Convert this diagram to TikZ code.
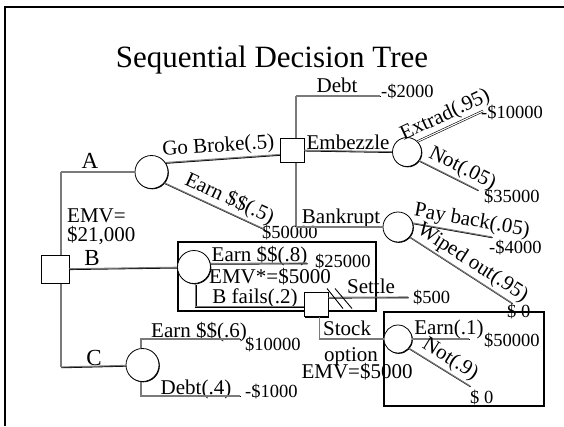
\documentclass[tikz,border=0pt]{standalone}
\usepackage{fontspec}
\setmainfont{Liberation Serif}
\usepackage{tikz}
\usetikzlibrary{calc,backgrounds,shadows}
\definecolor{TreeInk}{HTML}{000000}
\definecolor{TreeGray}{HTML}{7A7A7A}
\tikzset{
  tbranch/.style={draw=TreeGray,line width=1.1pt,
    preaction={draw=TreeInk,line width=1.1pt,transform canvas={shift={(0.5pt,-0.7pt)}}}},
  tdouble/.style={draw=TreeInk,line width=0.6pt,double=white,double distance=1.1pt},
  tslash/.style={draw=TreeInk,line width=0.9pt},
  tframe/.style={draw=TreeInk,line width=2.2pt},
  tregion/.style={draw=TreeInk,line width=1.2pt,inner sep=0pt,
    preaction={draw=TreeGray,line width=1.2pt,transform canvas={shift={(-0.9pt,0.9pt)}}}},
  tdecide/.style={draw=TreeInk,fill=white,line width=0.8pt,inner sep=0pt,
    drop shadow={shadow xshift=1.3pt,shadow yshift=-1.3pt,fill=TreeInk,opacity=1}},
  tchance/.style={circle,draw=TreeInk,fill=white,line width=0.8pt,inner sep=0pt,
    drop shadow={shadow xshift=0.8pt,shadow yshift=-0.8pt,fill=TreeInk,opacity=1}},
  tlab/.style={font=\fontsize{21}{23}\selectfont,inner sep=0pt},
  tval/.style={font=\fontsize{18.5}{20}\selectfont,inner sep=0pt},
  tletter/.style={font=\fontsize{23}{25}\selectfont,inner sep=0pt},
  tslope/.style={tlab,sloped,above,inner sep=2pt}
}

\begin{document}
\begin{tikzpicture}[x=1pt,y=-1pt]
  \useasboundingbox (0,0) rectangle (564,426);
  \draw[tframe] (5,426) -- (5,7) -- (564,7);

  \node[font=\fontsize{31}{35}\selectfont,anchor=base] (title) at (272,67) {Sequential Decision Tree};

  % decision and chance nodes
  \node[tdecide,minimum size=28pt] (sqR) at (55,269) {};
  \node[tchance,minimum size=33pt] (circA) at (151.5,172) {};
  \node[tchance,minimum size=33pt] (circB) at (194,267) {};
  \node[tchance,minimum size=33pt] (circC) at (142.5,365) {};
  \node[tdecide,minimum size=24pt] (sqGB) at (292,150) {};
  \node[tchance,minimum size=29pt] (circE) at (407,152) {};
  \node[tchance,minimum size=30pt] (circBk) at (398,227) {};
  \node[tdecide,minimum size=24pt] (sqS) at (316,304.5) {};
  \node[tchance,minimum size=28pt] (circSt) at (398,339) {};

  \coordinate (jA) at (61,172);
  \coordinate (jC) at (61,367);
  \coordinate (gTop) at (296,96);
  \coordinate (gBot) at (296,227);
  \coordinate (eDebt) at (380,96);
  \coordinate (eExt) at (483,111);
  \coordinate (eNot5) at (478,190);
  \coordinate (ePay) at (492,237);
  \coordinate (eWipe) at (512,303);
  \coordinate (eEarn5) at (264,229);
  \coordinate (eB8) at (307,263);
  \coordinate (eSet) at (408,297);
  \coordinate (eE1) at (469,339);
  \coordinate (eN9) at (470,386);
  \coordinate (eC6) at (240,339);
  \coordinate (eC4) at (240,396);

  % labels and values
  \node[tletter,anchor=base] (lA) at (90,168) {A};
  \node[tletter,anchor=base] (lB) at (92,265) {B};
  \node[tletter,anchor=base] (lC) at (94,365) {C};
  \node[tlab,anchor=base west] (lEmvR) at (67,222) {EMV=};
  \node[tlab,anchor=base west] (vEmvR) at (67,241) {\$21,000};
  \node[tlab,anchor=base] (lDebt) at (337,92) {Debt};
  \node[tval,anchor=base west] (vDebt) at (381,97) {-\$2000};
  \node[tlab,anchor=base] (lEmb) at (348,149) {Embezzle};
  \node[tval,anchor=base west] (vExt) at (481,118) {-\$10000};
  \node[tval,anchor=base west] (vNot5) at (484,202) {\$35000};
  \node[tlab,anchor=base] (lBank) at (341,223) {Bankrupt};
  \node[tval,anchor=base west] (vEarn5) at (262,238) {\$50000};
  \node[tval,anchor=base west] (vPay) at (489,253) {-\$4000};
  \node[tval,anchor=base west] (vWipe) at (507,317) {\$ 0};
  \node[tlab,anchor=base] (lB8) at (259.5,261) {Earn \$\$(.8)};
  \node[tval,anchor=base west] (vB8) at (315,267) {\$25000};
  \node[tlab,anchor=base] (lEmvB) at (270,283) {EMV*=\$5000};
  \node[tlab,anchor=base] (lBfail) at (255,303) {B fails(.2)};
  \node[tlab,anchor=base] (lSet) at (371,293) {Settle};
  \node[tval,anchor=base west] (vSet) at (413,303) {\$500};
  \node[tlab,anchor=base west] (lStock) at (323,335) {Stock};
  \node[tlab,anchor=base] (lOpt) at (351,361) {option};
  \node[tlab,anchor=base] (lEmvS) at (357,378) {EMV=\$5000};
  \node[tlab,anchor=base] (lE1) at (449,334) {Earn(.1)};
  \node[tval,anchor=base west] (vE1) at (484,346) {\$50000};
  \node[tval,anchor=base west] (vN9) at (470,403) {\$ 0};
  \node[tlab,anchor=base] (lC6) at (199,337) {Earn \$\$(.6)};
  \node[tval,anchor=base west] (vC6) at (245,350) {\$10000};
  \node[tlab,anchor=base] (lC4) at (196,394) {Debt(.4)};
  \node[tval,anchor=base west] (vC4) at (245,397) {-\$1000};

  \begin{scope}[on background layer]
    \node[tregion,minimum width=198pt,minimum height=69pt] (boxB) at (277,276.5) {};
    \node[tregion,minimum width=160pt,minimum height=94pt] (boxSt) at (464,359) {};
    \draw[tbranch] (jA) -- (jC);
    \draw[tbranch] (gTop) -- (gBot);
  \end{scope}

  \draw[tbranch] (jA) -- (circA);
  \draw[tbranch] (jC) -- (circC);
  \draw[tbranch] (sqR) -- (circB);
  \draw[tbranch] (circA.34) -- node[tslope,pos=.47] (lGB) {Go Broke(.5)} (sqGB.200);
  \draw[tbranch] (circA.-40) -- node[tslope,pos=.6] (lEarn5) {Earn \$\$(.5)} (eEarn5);
  \draw[tbranch] (gTop) -- (eDebt);
  \draw[tbranch] (sqGB) -- (circE);
  \draw[tdouble] (circE.45) -- node[tslope,pos=.5] (lExt) {Extrad(.95)} (eExt);
  \draw[tbranch] (circE.-35) -- node[tslope,pos=.64] (lNot5) {Not(.05)} (eNot5);
  \draw[tbranch] (gBot) -- (circBk);
  \draw[tbranch] (circBk.15) -- node[tslope,pos=.72] (lPay) {Pay back(.05)} (ePay);
  \draw[tbranch] (circBk.-40) -- node[tslope,pos=.55] (lWipe) {Wiped out(.95)} (eWipe);
  \draw[tbranch] (circB.12) -- (eB8);
  \draw[tbranch] (circB.-85) |- (sqS.190);
  \draw[tbranch] (sqS.30) -- (eSet);
  \draw[tslash] ($(sqS.center)+(11,-16)$) -- +(16,20);
  \draw[tslash] ($(sqS.center)+(19,-16)$) -- +(17,20);
  \draw[tbranch] (sqS.-76) |- (circSt);
  \draw[tbranch] (circSt) -- (eE1);
  \draw[tbranch] (circSt.-40) -- node[tslope,pos=.57] (lN9) {Not(.9)} (eN9);
  \draw[tbranch] (circC.95) |- (eC6);
  \draw[tbranch] (circC.-95) |- (eC4);
\end{tikzpicture}
\end{document}
